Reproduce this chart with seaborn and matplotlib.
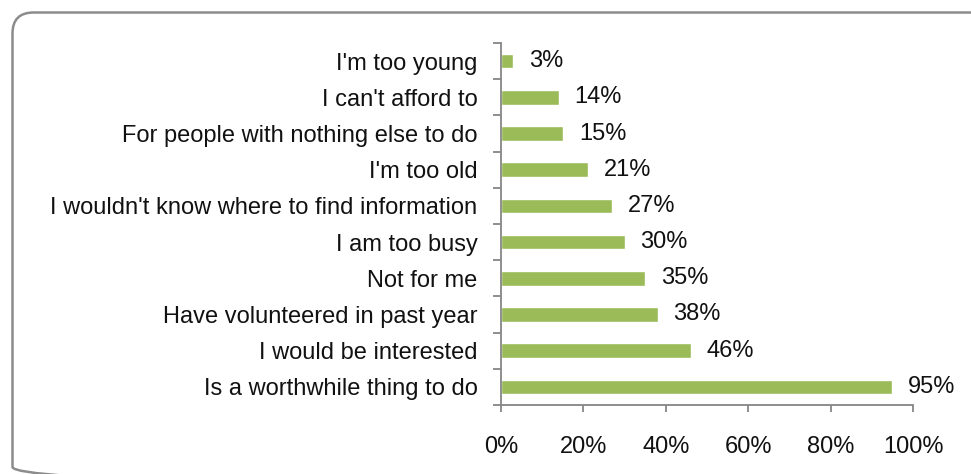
import matplotlib
matplotlib.use("Agg")
import matplotlib.pyplot as plt
import seaborn as sns
import pandas as pd
from matplotlib.patches import FancyBboxPatch
from matplotlib.ticker import FixedLocator

categories = [
    "I'm too young",
    "I can't afford to",
    "For people with nothing else to do",
    "I'm too old",
    "I wouldn't know where to find information",
    "I am too busy",
    "Not for me",
    "Have volunteered in past year",
    "I would be interested",
    "Is a worthwhile thing to do",
]
values = [3, 14, 15, 21, 27, 30, 35, 38, 46, 95]
x_ticks = [0, 20, 40, 60, 80, 100]
x_tick_labels = ["0%", "20%", "40%", "60%", "80%", "100%"]

sns.set_style("white")
plt.rcParams["font.family"] = ["Liberation Sans", "DejaVu Sans"]

W, H = 971, 474
FS = 17
fig = plt.figure(figsize=(W / 100, H / 100), dpi=100)

# rounded border drawn in a pixel-coordinate overlay
bg = fig.add_axes([0, 0, 1, 1], zorder=-1)
bg.set_xlim(0, W)
bg.set_ylim(H, 0)
bg.axis("off")
bg.add_patch(FancyBboxPatch((12.5, 12.5), 990 - 12.5, 488 - 12.5,
                            boxstyle="round,pad=0,rounding_size=21",
                            facecolor="none", edgecolor="#8c8c8c",
                            linewidth=1.8, clip_on=False))

ax = fig.add_axes([501 / W, 1 - 405 / H, (913 - 501) / W, (405 - 43) / H])
ax.patch.set_alpha(0)
df = pd.DataFrame({"cat": categories, "val": values})
sns.barplot(data=df, x="val", y="cat", orient="h", color="#9BBB59",
            saturation=1, width=0.4, ax=ax)

ax.set_xlim(0, 100)
ax.set_ylim(len(categories) - 0.5, -0.5)
ax.set_xlabel("")
ax.set_ylabel("")
ax.set_xticks(x_ticks)
ax.set_xticklabels(x_tick_labels)

for i, v in enumerate(values):
    ax.annotate(f"{v}%", (v, i), xytext=(11.5, 0), textcoords="offset points",
                va="center", ha="left", fontsize=FS, color="#111111")

ax.yaxis.set_minor_locator(FixedLocator([i - 0.5 for i in range(len(categories) + 1)]))
ax.tick_params(axis="y", which="major", length=0, pad=17, labelsize=FS,
               labelcolor="#111111")
ax.tick_params(axis="y", which="minor", length=6, width=1.3, color="#868686",
               direction="out", left=True)
ax.tick_params(axis="x", which="major", length=5, width=1.3, color="#868686",
               direction="out", pad=17, labelsize=FS, labelcolor="#111111",
               bottom=True)

for s in ["top", "right"]:
    ax.spines[s].set_visible(False)
for s in ["left", "bottom"]:
    ax.spines[s].set_color("#868686")
    ax.spines[s].set_linewidth(1.3)

fig.savefig("out.png", dpi=100)
